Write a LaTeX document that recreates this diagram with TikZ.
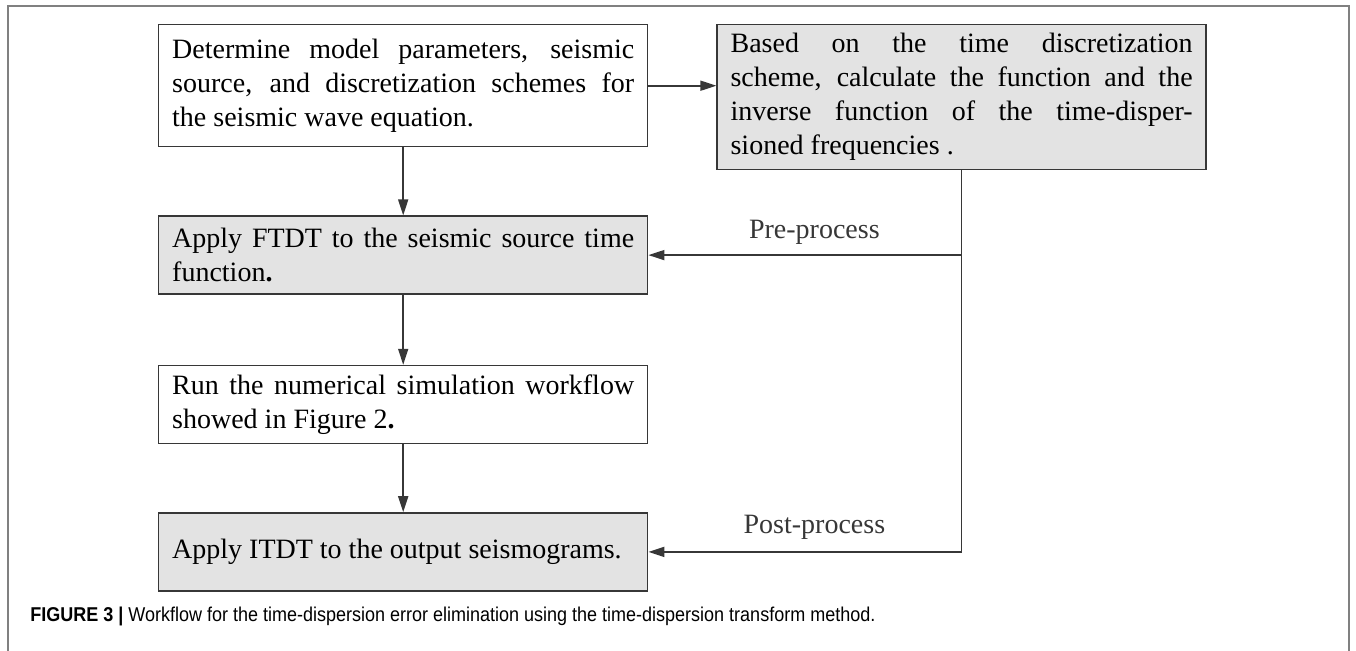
\documentclass[tikz,border=0pt]{standalone}
\usepackage{fontspec}
\setmainfont{Liberation Serif}
\newfontfamily\capfont[FakeStretch=0.9]{Liberation Sans}
\usepackage{tikz}
\usetikzlibrary{positioning,arrows.meta}
\definecolor{boxgray}{RGB}{227,227,227}
\definecolor{linegray}{RGB}{55,55,55}

\begin{document}
\begin{tikzpicture}[x=0.5pt, y=-0.5pt,
    box/.style={rectangle, draw=linegray, line width=0.7pt, fill=white,
                text width=231pt, inner xsep=6.75pt, inner ysep=4pt,
                minimum height=39pt,
                font=\fontsize{14}{17}\selectfont, align=justify},
    shaded/.style={box, fill=boxgray},
    arr/.style={-{Triangle[length=8pt,width=5pt]}, line width=0.8pt, linegray},
    frame/.style={draw=gray, line width=0.7pt}
  ]
  \useasboundingbox (0,0) rectangle (1356,650);
  \draw[frame] (8,700) |- (1349,6) -- (1349,700);

  \node[box, anchor=north west, minimum height=61pt] (box1) at (158,24)
        {Determine model parameters, seismic\linebreak
         source, and discretization schemes for\linebreak
         the seismic wave equation.};
  \node[shaded, right=34pt of box1.north east, anchor=north west,
        minimum height=72.5pt] (box2)
        {Based on the time discretization\linebreak
         scheme, calculate the function and the\linebreak
         inverse function of the time-disper-\linebreak
         sioned frequencies .};
  \node[shaded, below=34pt of box1] (box3)
        {Apply FTDT to the seismic source time\linebreak
         function{\bfseries .}};
  \node[box, below=35pt of box3] (box4)
        {Run the numerical simulation workflow\linebreak
         showed in Figure 2{\bfseries .}};
  \node[shaded, below=34pt of box4] (box5)
        {Apply ITDT to the output seismograms.};

  \coordinate (pre) at (box2.south |- box3.east);
  \coordinate (post) at (box2.south |- box5.east);

  \draw[arr] (box1.east) -- (box1.east -| box2.west);
  \draw[arr] (box1) -- (box3);
  \draw[arr] (box3) -- (box4);
  \draw[arr] (box4) -- (box5);
  \draw[linegray, line width=0.8pt] (box2.south) -- (post);
  \draw[arr] (pre) -- node[pos=0.47, above=1.5pt, font=\fontsize{14}{17}\selectfont]
        {Pre-process} (box3.east);
  \draw[arr] (post) -- node[pos=0.47, above=2.5pt, font=\fontsize{14}{17}\selectfont]
        {Post-process} (box5.east);

  \node[anchor=base west, inner sep=0pt, font=\capfont\fontsize{10}{12}\selectfont]
        (caption) at (30,621)
        {\textbf{FIGURE 3 |} Workflow for the time-dispersion error elimination using the time-dispersion transform method.};
\end{tikzpicture}
\end{document}
